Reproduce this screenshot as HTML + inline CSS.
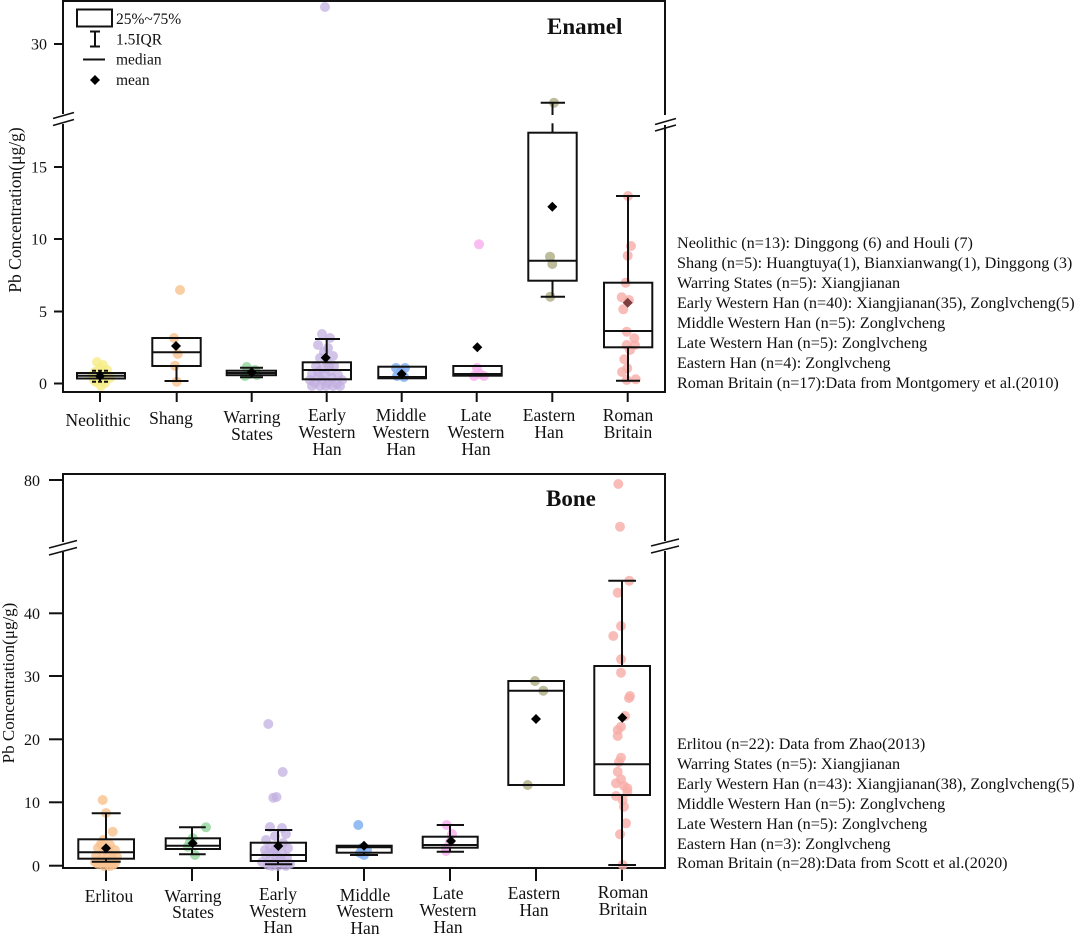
<!DOCTYPE html>
<html><head><meta charset="utf-8"><style>
html,body{margin:0;padding:0;background:#fff;}
svg{display:block;}
text{font-family:"Liberation Serif","Times New Roman",serif;fill:#111;}
.cat{font-size:17.5px;text-anchor:middle;}
.tk{font-size:16px;text-anchor:end;}
.info{font-size:16.2px;}
.leg{font-size:15.5px;}
.ax{stroke:#111;stroke-width:2;fill:none;}
.bx{stroke:#111;stroke-width:2;fill:none;}
.ye circle{fill:#f6ec86;fill-opacity:.8}
.or circle{fill:#f9c28e;fill-opacity:.8}
.gr circle{fill:#8fd49a;fill-opacity:.8}
.pu circle{fill:#c2b0e0;fill-opacity:.75}
.bl circle{fill:#82b2f2;fill-opacity:.85}
.pk circle{fill:#f8b2ee;fill-opacity:.85}
.ol circle{fill:#b2b08a;fill-opacity:.85}
.sa circle{fill:#f8aca8;fill-opacity:.8}
</style></head><body>
<svg width="1080" height="934" viewBox="0 0 1080 934" xmlns="http://www.w3.org/2000/svg">
<rect width="1080" height="934" fill="#fff"/>

<!-- ================= TOP PANEL ================= -->
<line class="ax" x1="63" y1="1" x2="665" y2="1"/>
<line class="ax" x1="63" y1="392" x2="665" y2="392"/>
<line class="ax" x1="63" y1="0" x2="63" y2="114"/>
<line class="ax" x1="63" y1="124" x2="63" y2="393"/>
<line class="ax" x1="665" y1="0" x2="665" y2="115"/>
<line class="ax" x1="665" y1="125" x2="665" y2="393"/>
<line stroke="#111" stroke-width="1.6" x1="53" y1="118.5" x2="74" y2="112.5"/>
<line stroke="#111" stroke-width="1.6" x1="53" y1="125.5" x2="74" y2="119.5"/>
<line stroke="#111" stroke-width="1.6" x1="655" y1="124.5" x2="676" y2="118.5"/>
<line stroke="#111" stroke-width="1.6" x1="655" y1="131" x2="676" y2="125"/>
<g stroke="#111" stroke-width="2">
<line x1="54" y1="44" x2="63" y2="44"/>
<line x1="54" y1="167" x2="63" y2="167"/>
<line x1="54" y1="239" x2="63" y2="239"/>
<line x1="54" y1="311.5" x2="63" y2="311.5"/>
<line x1="54" y1="383.5" x2="63" y2="383.5"/>
</g>
<text class="tk" x="47" y="49.5">30</text>
<text class="tk" x="47" y="172.5">15</text>
<text class="tk" x="47" y="244.5">10</text>
<text class="tk" x="47" y="317">5</text>
<text class="tk" x="47" y="389">0</text>
<text font-size="17.5" transform="translate(21,210) rotate(-90)" text-anchor="middle">Pb Concentration(μg/g)</text>
<g stroke="#111" stroke-width="2">
<line x1="100" y1="392" x2="100" y2="402"/>
<line x1="176.7" y1="392" x2="176.7" y2="402"/>
<line x1="251.7" y1="392" x2="251.7" y2="402"/>
<line x1="326.7" y1="392" x2="326.7" y2="402"/>
<line x1="401.7" y1="392" x2="401.7" y2="402"/>
<line x1="476.7" y1="392" x2="476.7" y2="402"/>
<line x1="552.3" y1="392" x2="552.3" y2="402"/>
<line x1="627.7" y1="392" x2="627.7" y2="402"/>
</g>
<text class="cat" x="98" y="426">Neolithic</text>
<text class="cat" x="171" y="424">Shang</text>
<text class="cat" x="252" y="423">Warring</text><text class="cat" x="252" y="440">States</text>
<text class="cat" x="327" y="421">Early</text><text class="cat" x="327" y="438">Western</text><text class="cat" x="327" y="455">Han</text>
<text class="cat" x="401" y="421">Middle</text><text class="cat" x="401" y="438">Western</text><text class="cat" x="401" y="455">Han</text>
<text class="cat" x="476" y="421">Late</text><text class="cat" x="476" y="438">Western</text><text class="cat" x="476" y="455">Han</text>
<text class="cat" x="549" y="421">Eastern</text><text class="cat" x="549" y="438">Han</text>
<text class="cat" x="628" y="421">Roman</text><text class="cat" x="628" y="438">Britain</text>

<text x="547" y="34" font-size="23" font-weight="bold">Enamel</text>

<rect class="bx" x="77" y="9.5" width="35" height="17"/>
<text class="leg" x="116" y="24">25%~75%</text>
<g stroke="#111" stroke-width="2"><line x1="95" y1="31.5" x2="95" y2="46.5"/><line x1="90" y1="31.5" x2="100" y2="31.5"/><line x1="90" y1="46.5" x2="100" y2="46.5"/></g>
<text class="leg" x="116" y="44.5">1.5IQR</text>
<line stroke="#111" stroke-width="2" x1="83" y1="59.5" x2="105" y2="59.5"/>
<text class="leg" x="116" y="64.5">median</text>
<polygon points="95,75 100,80 95,85 90,80" fill="#000"/>
<text class="leg" x="116" y="85">mean</text>

<g class="ye">
<circle cx="97" cy="362" r="5"/><circle cx="103" cy="365" r="5"/><circle cx="100" cy="368" r="5"/><circle cx="95" cy="372" r="5"/><circle cx="107" cy="370" r="5"/><circle cx="92" cy="376" r="5"/><circle cx="104" cy="376" r="5"/><circle cx="99" cy="379" r="5"/><circle cx="110" cy="378" r="5"/><circle cx="96" cy="382" r="5"/><circle cx="105" cy="383" r="5"/><circle cx="101" cy="386" r="5"/><circle cx="94" cy="380" r="5"/>
</g>
<g class="or">
<circle cx="180" cy="290" r="5"/><circle cx="174" cy="338" r="5"/><circle cx="177.7" cy="354" r="5"/><circle cx="175" cy="365.7" r="5"/><circle cx="176.7" cy="381.7" r="5"/>
</g>
<g class="gr">
<circle cx="246.7" cy="367" r="5"/><circle cx="255" cy="370" r="5"/><circle cx="250" cy="374" r="5"/><circle cx="257" cy="375" r="5"/><circle cx="245" cy="376" r="5"/>
</g>
<g class="pu">
<circle cx="325" cy="7" r="5"/>
<circle cx="322" cy="334" r="5"/><circle cx="330" cy="338" r="5"/><circle cx="318" cy="345" r="5"/><circle cx="328" cy="348" r="5"/><circle cx="324" cy="352" r="5"/><circle cx="333" cy="356" r="5"/><circle cx="320" cy="358" r="5"/><circle cx="327" cy="362" r="5"/><circle cx="316" cy="366" r="5"/><circle cx="334" cy="366" r="5"/><circle cx="322" cy="369" r="5"/><circle cx="330" cy="371" r="5"/><circle cx="312" cy="374" r="5"/><circle cx="325" cy="374" r="5"/><circle cx="338" cy="375" r="5"/><circle cx="318" cy="377" r="5"/><circle cx="332" cy="378" r="5"/><circle cx="310" cy="380" r="5"/><circle cx="322" cy="380" r="5"/><circle cx="342" cy="380" r="5"/><circle cx="315" cy="383" r="5"/><circle cx="328" cy="383" r="5"/><circle cx="337" cy="384" r="5"/><circle cx="320" cy="386" r="5"/><circle cx="333" cy="386" r="5"/><circle cx="312" cy="386" r="5"/><circle cx="326" cy="386" r="5"/><circle cx="340" cy="386" r="5"/><circle cx="318" cy="372" r="5"/><circle cx="329" cy="366" r="5"/>
</g>
<g class="bl">
<circle cx="396" cy="368" r="5"/><circle cx="405" cy="368" r="5"/><circle cx="397" cy="376" r="5"/><circle cx="404" cy="377" r="5"/><circle cx="401" cy="372" r="5"/>
</g>
<g class="pk">
<circle cx="479" cy="244.3" r="5"/><circle cx="477" cy="368" r="5"/><circle cx="480" cy="374" r="5"/><circle cx="474" cy="376" r="5"/><circle cx="484" cy="376" r="5"/>
</g>
<g class="ol">
<circle cx="554" cy="102.7" r="5"/><circle cx="550" cy="256.7" r="5"/><circle cx="552.3" cy="264" r="5"/><circle cx="550.3" cy="296.7" r="5"/>
</g>
<g class="sa">
<circle cx="628" cy="196" r="5"/><circle cx="631" cy="246" r="5"/><circle cx="627.7" cy="255.7" r="5"/><circle cx="625.7" cy="282.7" r="5"/><circle cx="621.7" cy="297.3" r="5"/><circle cx="623.3" cy="309.3" r="5"/><circle cx="626.7" cy="331.7" r="5"/><circle cx="634.3" cy="338.3" r="5"/><circle cx="626.7" cy="345" r="5"/><circle cx="635" cy="345" r="5"/><circle cx="624.3" cy="359.3" r="5"/><circle cx="627.3" cy="368.3" r="5"/><circle cx="626.7" cy="380" r="5"/><circle cx="635.7" cy="379.3" r="5"/><circle cx="629" cy="300" r="5"/><circle cx="630" cy="350" r="5"/><circle cx="622" cy="372" r="5"/>
</g>

<g class="bx">
<rect x="77" y="373" width="48" height="5.5"/><line x1="77" y1="375.8" x2="125" y2="375.8"/>
<line x1="100" y1="370.7" x2="100" y2="373"/><line x1="92" y1="370.7" x2="108" y2="370.7" stroke-dasharray="4 2"/>
<line x1="100" y1="378.5" x2="100" y2="381.7"/><line x1="92" y1="381.7" x2="108" y2="381.7" stroke-dasharray="4 2"/>
<rect x="152.3" y="338" width="48.4" height="28"/><line x1="152.3" y1="352.3" x2="200.7" y2="352.3"/>
<line x1="176.5" y1="366" x2="176.5" y2="381"/><line x1="164.5" y1="381" x2="188.5" y2="381"/>
<rect x="226.7" y="370.7" width="49.3" height="4.5"/><line x1="226.7" y1="373" x2="276" y2="373"/>
<line x1="251.7" y1="367.7" x2="251.7" y2="370.7"/><line x1="240" y1="367.7" x2="263" y2="367.7"/>
<line x1="251.7" y1="375" x2="251.7" y2="377.3"/><line x1="240" y1="377.3" x2="263" y2="377.3"/>
<rect x="302.7" y="362.3" width="48.3" height="17"/><line x1="302.7" y1="370" x2="351" y2="370"/>
<line x1="326.7" y1="339" x2="326.7" y2="362.3"/><line x1="315" y1="339" x2="340" y2="339"/>
<rect x="378.3" y="366.7" width="47.7" height="11.6"/><line x1="378.3" y1="377" x2="426" y2="377"/>
<rect x="453.3" y="366" width="48.4" height="9.7"/><line x1="453.3" y1="374.3" x2="501.7" y2="374.3" stroke-width="2.5"/>
<rect x="528.3" y="132.7" width="48.4" height="148"/><line x1="528.3" y1="260.7" x2="576.7" y2="260.7"/>
<line x1="552.5" y1="123.3" x2="552.5" y2="132.7"/><line x1="552.5" y1="102.7" x2="552.5" y2="115"/>
<line x1="540.7" y1="102.7" x2="565" y2="102.7"/>
<line x1="552.5" y1="280.7" x2="552.5" y2="296.7"/><line x1="540.7" y1="296.7" x2="565" y2="296.7"/>
<rect x="604" y="282.7" width="48.3" height="64.6"/><line x1="604" y1="331" x2="652.3" y2="331"/>
<line x1="628" y1="196" x2="628" y2="282.7"/><line x1="616" y1="196" x2="640" y2="196"/>
<line x1="628" y1="347.3" x2="628" y2="380.7"/><line x1="616" y1="380.7" x2="640" y2="380.7"/>
</g>
<g fill="#000">
<polygon points="100,371 105,376 100,381 95,376"/>
<polygon points="176,341 181,346 176,351 171,346"/>
<polygon points="251.7,367.3 256.7,372.3 251.7,377.3 246.7,372.3"/>
<polygon points="325.7,352.7 330.7,357.7 325.7,362.7 320.7,357.7"/>
<polygon points="401.7,369 406.7,374 401.7,379 396.7,374"/>
<polygon points="477.3,342.3 482.3,347.3 477.3,352.3 472.3,347.3"/>
<polygon points="552.3,201.7 557.3,206.7 552.3,211.7 547.3,206.7"/>
<polygon points="627.7,297.7 632.7,302.7 627.7,307.7 622.7,302.7" fill="#7d4040"/>
</g>

<text class="info" x="677" y="248">Neolithic (n=13): Dinggong (6) and Houli (7)</text>
<text class="info" x="677" y="268">Shang (n=5): Huangtuya(1), Bianxianwang(1), Dinggong (3)</text>
<text class="info" x="677" y="288">Warring States (n=5): Xiangjianan</text>
<text class="info" x="677" y="308">Early Western Han (n=40): Xiangjianan(35), Zonglvcheng(5)</text>
<text class="info" x="677" y="328">Middle Western Han (n=5): Zonglvcheng</text>
<text class="info" x="677" y="348">Late Western Han (n=5): Zonglvcheng</text>
<text class="info" x="677" y="368">Eastern Han (n=4): Zonglvcheng</text>
<text class="info" x="677" y="388">Roman Britain (n=17):Data from Montgomery et al.(2010)</text>

<!-- ================= BOTTOM PANEL ================= -->
<line class="ax" x1="63" y1="474" x2="665" y2="474"/>
<line class="ax" x1="63" y1="868" x2="665" y2="868"/>
<line class="ax" x1="63" y1="473" x2="63" y2="542"/>
<line class="ax" x1="63" y1="552" x2="63" y2="869"/>
<line class="ax" x1="665" y1="473" x2="665" y2="541"/>
<line class="ax" x1="665" y1="551" x2="665" y2="869"/>
<line stroke="#111" stroke-width="1.6" x1="49" y1="548" x2="77" y2="540.5"/>
<line stroke="#111" stroke-width="1.6" x1="49" y1="555" x2="77" y2="547.5"/>
<line stroke="#111" stroke-width="1.6" x1="651" y1="546" x2="679" y2="539"/>
<line stroke="#111" stroke-width="1.6" x1="651" y1="553" x2="679" y2="546"/>
<g stroke="#111" stroke-width="2">
<line x1="49" y1="480" x2="63" y2="480"/>
<line x1="49" y1="613.3" x2="63" y2="613.3"/>
<line x1="49" y1="676" x2="63" y2="676"/>
<line x1="49" y1="739.3" x2="63" y2="739.3"/>
<line x1="49" y1="802.3" x2="63" y2="802.3"/>
<line x1="49" y1="865.7" x2="63" y2="865.7"/>
</g>
<text class="tk" x="40" y="486">80</text>
<text class="tk" x="40" y="619">40</text>
<text class="tk" x="40" y="682">30</text>
<text class="tk" x="40" y="745">20</text>
<text class="tk" x="40" y="808">10</text>
<text class="tk" x="40" y="871.5">0</text>
<text font-size="17" transform="translate(14,683) rotate(-90)" text-anchor="middle">Pb Concentration(μg/g)</text>
<g stroke="#111" stroke-width="2">
<line x1="106" y1="868" x2="106" y2="881"/>
<line x1="192" y1="868" x2="192" y2="881"/>
<line x1="278" y1="868" x2="278" y2="881"/>
<line x1="364" y1="868" x2="364" y2="881"/>
<line x1="450" y1="868" x2="450" y2="881"/>
<line x1="536" y1="868" x2="536" y2="881"/>
<line x1="622" y1="868" x2="622" y2="881"/>
</g>
<text class="cat" x="109" y="902">Erlitou</text>
<text class="cat" x="193" y="902">Warring</text><text class="cat" x="193" y="918">States</text>
<text class="cat" x="278" y="900">Early</text><text class="cat" x="278" y="917">Western</text><text class="cat" x="278" y="933">Han</text>
<text class="cat" x="365" y="901">Middle</text><text class="cat" x="365" y="917">Western</text><text class="cat" x="365" y="934">Han</text>
<text class="cat" x="448" y="899">Late</text><text class="cat" x="448" y="916">Western</text><text class="cat" x="448" y="933">Han</text>
<text class="cat" x="534" y="899">Eastern</text><text class="cat" x="534" y="916">Han</text>
<text class="cat" x="623" y="898">Roman</text><text class="cat" x="623" y="915">Britain</text>

<text x="546" y="506" font-size="23" font-weight="bold">Bone</text>

<g class="or">
<circle cx="102.7" cy="800" r="5"/><circle cx="106" cy="813" r="5"/><circle cx="112.7" cy="831.7" r="5"/><circle cx="103.3" cy="840" r="5"/><circle cx="110" cy="845" r="5"/><circle cx="98" cy="848" r="5"/><circle cx="115" cy="850" r="5"/><circle cx="103" cy="852" r="5"/><circle cx="108" cy="855" r="5"/><circle cx="96" cy="856" r="5"/><circle cx="112" cy="858" r="5"/><circle cx="100" cy="860" r="5"/><circle cx="106" cy="862" r="5"/><circle cx="115" cy="863" r="5"/><circle cx="98" cy="864" r="5"/><circle cx="104" cy="866" r="5"/><circle cx="110" cy="866" r="5"/><circle cx="95" cy="862" r="5"/><circle cx="117" cy="857" r="5"/><circle cx="101" cy="844" r="5"/><circle cx="108" cy="849" r="5"/><circle cx="113" cy="865" r="5"/>
</g>
<g class="gr">
<circle cx="206" cy="827.3" r="5"/><circle cx="192.7" cy="838.3" r="5"/><circle cx="187.7" cy="846.7" r="5"/><circle cx="195" cy="855" r="5"/><circle cx="190" cy="842" r="5"/>
</g>
<g class="pu">
<circle cx="268.3" cy="724" r="5"/><circle cx="282.7" cy="772" r="5"/><circle cx="273.3" cy="797.7" r="5"/><circle cx="276.5" cy="797" r="5"/>
<circle cx="270" cy="827" r="5"/><circle cx="282" cy="828" r="5"/><circle cx="286" cy="834" r="5"/><circle cx="275" cy="836" r="5"/><circle cx="266" cy="840" r="5"/><circle cx="283" cy="843" r="5"/><circle cx="278" cy="846" r="5"/><circle cx="270" cy="848" r="5"/><circle cx="288" cy="848" r="5"/><circle cx="274" cy="852" r="5"/><circle cx="282" cy="853" r="5"/><circle cx="266" cy="855" r="5"/><circle cx="276" cy="856" r="5"/><circle cx="287" cy="857" r="5"/><circle cx="270" cy="860" r="5"/><circle cx="280" cy="860" r="5"/><circle cx="262" cy="862" r="5"/><circle cx="274" cy="863" r="5"/><circle cx="284" cy="863" r="5"/><circle cx="290" cy="864" r="5"/><circle cx="268" cy="865" r="5"/><circle cx="278" cy="866" r="5"/><circle cx="286" cy="866" r="5"/><circle cx="272" cy="866" r="5"/><circle cx="280" cy="858" r="5"/><circle cx="275" cy="850" r="5"/><circle cx="265" cy="850" r="5"/>
</g>
<g class="bl">
<circle cx="358.3" cy="825" r="5"/><circle cx="362" cy="848" r="5"/><circle cx="364" cy="855" r="5"/><circle cx="367" cy="850" r="5"/><circle cx="360" cy="853" r="5"/>
</g>
<g class="pk">
<circle cx="446.7" cy="825" r="5"/><circle cx="452" cy="834" r="5"/><circle cx="446" cy="848" r="5"/><circle cx="446" cy="851" r="5"/><circle cx="450" cy="842" r="5"/>
</g>
<g class="ol">
<circle cx="535" cy="681" r="5"/><circle cx="543.3" cy="690.7" r="5"/><circle cx="527.7" cy="785" r="5"/>
</g>
<g class="sa">
<circle cx="618.3" cy="484" r="5"/><circle cx="620" cy="526.7" r="5"/><circle cx="629.3" cy="580.7" r="5"/><circle cx="617.7" cy="592.7" r="5"/><circle cx="621" cy="626" r="5"/><circle cx="613.3" cy="636" r="5"/><circle cx="621" cy="659.3" r="5"/><circle cx="621" cy="672.7" r="5"/><circle cx="630" cy="696" r="5"/><circle cx="629" cy="698" r="5"/><circle cx="621" cy="726.7" r="5"/><circle cx="617.7" cy="730" r="5"/><circle cx="617.7" cy="736" r="5"/><circle cx="621" cy="757.7" r="5"/><circle cx="617.7" cy="771.7" r="5"/><circle cx="621" cy="779.3" r="5"/><circle cx="616" cy="783.3" r="5"/><circle cx="627.3" cy="788.3" r="5"/><circle cx="627.3" cy="791.7" r="5"/><circle cx="616" cy="796" r="5"/><circle cx="622.7" cy="800" r="5"/><circle cx="624" cy="806.7" r="5"/><circle cx="626" cy="823.3" r="5"/><circle cx="620" cy="834.3" r="5"/><circle cx="622.7" cy="865" r="5"/><circle cx="624" cy="786" r="5"/><circle cx="619" cy="762" r="5"/><circle cx="625" cy="716" r="5"/>
</g>

<g class="bx">
<rect x="78.3" y="839.3" width="55.7" height="19.4"/><line x1="78.3" y1="852.3" x2="134" y2="852.3"/>
<line x1="106" y1="813.3" x2="106" y2="839.3"/><line x1="91.7" y1="813.3" x2="120.7" y2="813.3"/>
<line x1="106" y1="858.7" x2="106" y2="861.7"/><line x1="91.7" y1="861.7" x2="120.7" y2="861.7"/>

<rect x="165.7" y="838.3" width="54.3" height="10.7"/><line x1="165.7" y1="845.7" x2="220" y2="845.7"/>
<line x1="192" y1="827.3" x2="192" y2="838.3"/><line x1="179" y1="827.3" x2="205.7" y2="827.3"/>
<line x1="192" y1="849" x2="192" y2="854.3"/><line x1="179" y1="854.3" x2="205.7" y2="854.3"/>

<rect x="250.7" y="842.7" width="55.3" height="18.3"/><line x1="250.7" y1="855" x2="306" y2="855"/>
<line x1="278" y1="830" x2="278" y2="842.7"/><line x1="265" y1="830" x2="292.3" y2="830"/>
<line x1="278" y1="861" x2="278" y2="864.3"/><line x1="265" y1="864.3" x2="292.3" y2="864.3"/>

<rect x="336.7" y="845.7" width="55" height="7"/><line x1="336.7" y1="847.3" x2="391.7" y2="847.3"/>
<line x1="364" y1="852.7" x2="364" y2="855"/><line x1="350" y1="855" x2="378" y2="855"/>

<rect x="422.7" y="836.7" width="55" height="11"/><line x1="422.7" y1="845" x2="477.7" y2="845"/>
<line x1="450" y1="825" x2="450" y2="836.7"/><line x1="436.7" y1="825" x2="464" y2="825"/>
<line x1="450" y1="847.7" x2="450" y2="851.7"/><line x1="436.7" y1="851.7" x2="464" y2="851.7"/>

<rect x="508.3" y="681" width="55.7" height="104"/><line x1="508.3" y1="690.7" x2="564" y2="690.7"/>

<rect x="594.3" y="666" width="55.7" height="129"/><line x1="594.3" y1="764.3" x2="650" y2="764.3"/>
<line x1="622" y1="580.7" x2="622" y2="666"/><line x1="608.3" y1="580.7" x2="636" y2="580.7"/>
<line x1="622" y1="795" x2="622" y2="865"/><line x1="608.3" y1="865" x2="636" y2="865"/>
</g>
<g fill="#000">
<polygon points="106,843.3 111,848.3 106,853.3 101,848.3"/>
<polygon points="192.7,838.3 197.7,843.3 192.7,848.3 187.7,843.3"/>
<polygon points="278.3,841 283.3,846 278.3,851 273.3,846"/>
<polygon points="364,840.7 369,845.7 364,850.7 359,845.7"/>
<polygon points="451,836 456,841 451,846 446,841"/>
<polygon points="536,714 541,719 536,724 531,719"/>
<polygon points="622.3,712.7 627.3,717.7 622.3,722.7 617.3,717.7"/>
</g>

<text class="info" x="677" y="749">Erlitou (n=22): Data from Zhao(2013)</text>
<text class="info" x="677" y="769">Warring States (n=5): Xiangjianan</text>
<text class="info" x="677" y="789">Early Western Han (n=43): Xiangjianan(38), Zonglvcheng(5)</text>
<text class="info" x="677" y="809">Middle Western Han (n=5): Zonglvcheng</text>
<text class="info" x="677" y="829">Late Western Han (n=5): Zonglvcheng</text>
<text class="info" x="677" y="849">Eastern Han (n=3): Zonglvcheng</text>
<text class="info" x="677" y="868">Roman Britain (n=28):Data from Scott et al.(2020)</text>
</svg>
</body></html>
